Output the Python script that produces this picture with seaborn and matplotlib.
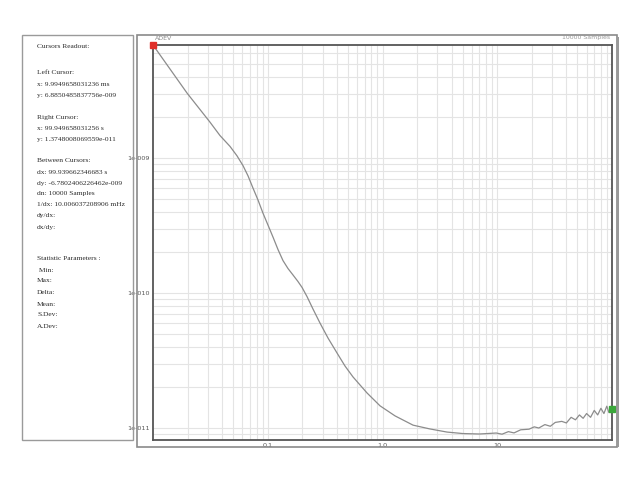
import matplotlib
matplotlib.use("Agg")
import matplotlib.pyplot as plt
import matplotlib.patches as patches
import seaborn as sns
import pandas as pd

# Allan deviation curve
tau = [0.009995, 0.0198, 0.0313, 0.0383, 0.0469, 0.0539, 0.0608, 0.0672, 0.0743,
       0.0822, 0.0908, 0.1004, 0.111, 0.1228, 0.1357, 0.150, 0.166, 0.183, 0.199,
       0.220, 0.248, 0.285, 0.335, 0.401, 0.471, 0.553, 0.732, 0.951, 1.285,
       1.845, 2.59, 3.65, 5.0, 6.98, 9.8, 11.0, 12.5, 14.0, 16.0, 18.9, 21.0,
       23.0, 26.0, 29.0, 32.0, 36.5, 40.0, 44.0, 48.0, 52.0, 56.0, 60.0, 65.0,
       70.0, 75.0, 80.0, 85.0, 90.0, 94.0, 99.95]
adev = [6.885e-9, 3.03e-9, 1.85e-9, 1.47e-9, 1.22e-9, 1.04e-9, 8.8e-10, 7.4e-10, 6.0e-10,
        4.89e-10, 3.91e-10, 3.19e-10, 2.6e-10, 2.1e-10, 1.74e-10, 1.52e-10, 1.36e-10, 1.22e-10, 1.10e-10,
        9.4e-11, 7.6e-11, 6.0e-11, 4.64e-11, 3.6e-11, 2.88e-11, 2.39e-11, 1.82e-11, 1.46e-11, 1.23e-11,
        1.05e-11, 9.84e-12, 9.33e-12, 9.1e-12, 9.03e-12, 9.18e-12, 9.0e-12, 9.4e-12, 9.2e-12, 9.7e-12, 9.8e-12, 1.02e-11,
        1.0e-11, 1.06e-11, 1.03e-11, 1.1e-11, 1.12e-11, 1.09e-11, 1.2e-11, 1.15e-11, 1.25e-11, 1.18e-11, 1.28e-11, 1.2e-11,
        1.35e-11, 1.25e-11, 1.4e-11, 1.28e-11, 1.45e-11, 1.3e-11, 1.375e-11]

x_ticks = [0.1, 1.0, 10]
x_tick_labels = ["0.1", "1.0", "10"]
y_ticks = [1e-9, 1e-10, 1e-11]
y_tick_labels = ["1e-009", "1e-010", "1e-011"]

readout_lines = [
    ("Cursors Readout:", 47),
    ("Left Cursor:", 73),
    ("x: 9.9949658031236 ms", 84),
    ("y: 6.8850485837756e-009", 95),
    ("Right Cursor:", 117),
    ("x: 99.949658031256 s", 128),
    ("y: 1.3748008069559e-011", 139),
    ("Between Cursors:", 161),
    ("dx: 99.939662346683 s", 172),
    ("dy: -6.7802406226462e-009", 183),
    ("dn: 10000 Samples", 194),
    ("1/dx: 10.006037208906 mHz", 205),
    ("dy/dx:", 216),
    ("dx/dy:", 227),
    ("Statistic Parameters :", 259),
    (" Min:", 270),
    ("Max:", 281),
    ("Delta:", 292),
    ("Mean:", 304),
    ("S.Dev:", 315),
    ("A.Dev:", 326),
]

df = pd.DataFrame({"tau": tau, "adev": adev})

sns.set_style("white")
plt.rcParams["font.family"] = ["DejaVu Sans"]

W, H = 640, 480
fig = plt.figure(figsize=(6.4, 4.8), dpi=100)


def fx(px):
    return px / W


def fy(py):
    return 1 - py / H


# left readout panel
fig.patches.append(patches.Rectangle((fx(22), fy(440)), fx(133 - 22), (440 - 35) / H,
                                     transform=fig.transFigure, fill=False,
                                     edgecolor="#9a9a9a", linewidth=1.0))
for txt, py in readout_lines:
    fig.text(fx(37), fy(py), txt, fontsize=5.4, family="Liberation Serif",
             color="#2a2a2a", va="center", ha="left")

# outer frame of plot panel
fig.patches.append(patches.Rectangle((fx(137), fy(447)), fx(617 - 137), (447 - 35) / H,
                                     transform=fig.transFigure, fill=False,
                                     edgecolor="#8a8a8a", linewidth=1.2))
fig.patches.append(patches.Rectangle((fx(617), fy(447)), fx(2), (447 - 37) / H,
                                     transform=fig.transFigure, facecolor="#9a9a9a",
                                     edgecolor="none"))

ax = fig.add_axes([fx(153), fy(440), fx(612 - 153), (440 - 45) / H])
sns.lineplot(data=df, x="tau", y="adev", color="#8c8c8c", linewidth=0.9, ax=ax)
ax.set_xscale("log")
ax.set_yscale("log")
ax.set_xlim(tau[0], tau[-1])
ax.set_ylim(8.15e-12, adev[0])

ax.grid(True, which="both", color="#e4e4e4", linewidth=0.8)
ax.set_axisbelow(True)
for s in ax.spines.values():
    s.set_color("#555555")
    s.set_linewidth(1.3)

ax.set_xticks(x_ticks)
ax.set_xticklabels(x_tick_labels)
ax.set_yticks(y_ticks)
ax.set_yticklabels(y_tick_labels)
ax.tick_params(which="both", length=0, labelsize=4.6, colors="#555555", pad=2)
ax.set_xlabel("")
ax.set_ylabel("")

# cursors
ax.plot([tau[0]], [adev[0]], marker="s", markersize=4, color="#e0302a",
        clip_on=False, zorder=5)
ax.plot([tau[-1]], [adev[-1]], marker="s", markersize=4, color="#3aa83a",
        clip_on=False, zorder=5)

fig.text(fx(155), fy(38), "ADEV", fontsize=4.5, color="#888888", va="center")
fig.text(fx(610), fy(38), "10000 Samples", fontsize=4.5, color="#999999",
         va="center", ha="right")

fig.savefig("out.png", dpi=100)
